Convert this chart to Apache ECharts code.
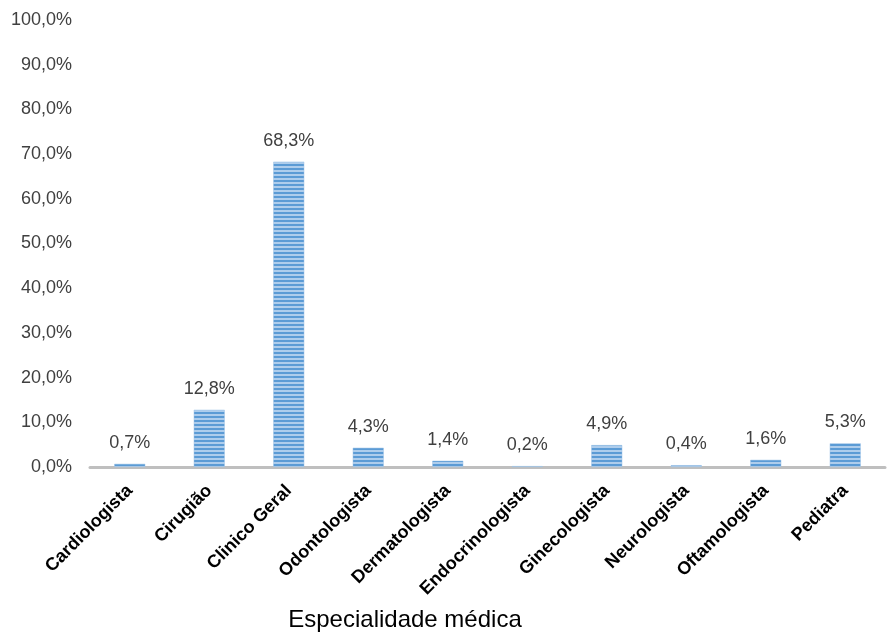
<!DOCTYPE html>
<html><head><meta charset="utf-8">
<script src="https://cdn.jsdelivr.net/npm/echarts@6/dist/echarts.min.js"></script>
<style>html,body{margin:0;padding:0;background:#fff}#c{width:888px;height:633px}</style>
</head><body><div id="c"></div>
<script>
const categories = ['Cardiologista','Cirugião','Clinico Geral','Odontologista','Dermatologista','Endocrinologista','Ginecologista','Neurologista','Oftamologista','Pediatra'];
const values = [0.7, 12.8, 68.3, 4.3, 1.4, 0.2, 4.9, 0.4, 1.6, 5.3];
const yTicks = [0,10,20,30,40,50,60,70,80,90,100];

const pc = document.createElement('canvas');
pc.width = 4; pc.height = 4;
const ctx = pc.getContext('2d');
ctx.fillStyle = '#5b9bd5'; ctx.fillRect(0,0,4,2);
ctx.fillStyle = '#aecdec'; ctx.fillRect(0,2,4,2);

const fmt = v => v.toFixed(1).replace('.', ',') + '%';
const chart = echarts.init(document.getElementById('c'));
chart.setOption({
  animation: false,
  grid: {left: 90, right: 3, top: 20, bottom: 166},
  xAxis: {
    type: 'category', data: categories,
    axisLine: {lineStyle: {color: '#bfbfbf', width: 3}},
    axisTick: {show: false},
    axisLabel: {rotate: 45, interval: 0, fontFamily: 'Liberation Sans', fontWeight: 'bold', fontSize: 18, color: '#000', margin: 21}
  },
  yAxis: {
    type: 'value', min: 0, max: 100, interval: 10,
    splitLine: {show: false},
    axisLine: {show: false}, axisTick: {show: false},
    axisLabel: {formatter: v => fmt(v), fontFamily: 'Liberation Sans', fontSize: 18, color: '#404040', margin: 18}
  },
  series: [{
    type: 'bar', data: values, barWidth: 31,
    itemStyle: {color: {image: pc, repeat: 'repeat'}, borderColor: '#9dc3e6', borderWidth: 0.5},
    label: {show: true, position: 'top', distance: 12, formatter: p => fmt(p.value), fontFamily: 'Liberation Sans', fontSize: 18, color: '#404040'}
  }],
  graphic: [{
    type: 'text', x: 405, y: 620,
    style: {text: 'Especialidade médica', font: '24px "Liberation Sans"', fill: '#000', textAlign: 'center', textVerticalAlign: 'middle'}
  }]
});
</script></body></html>
